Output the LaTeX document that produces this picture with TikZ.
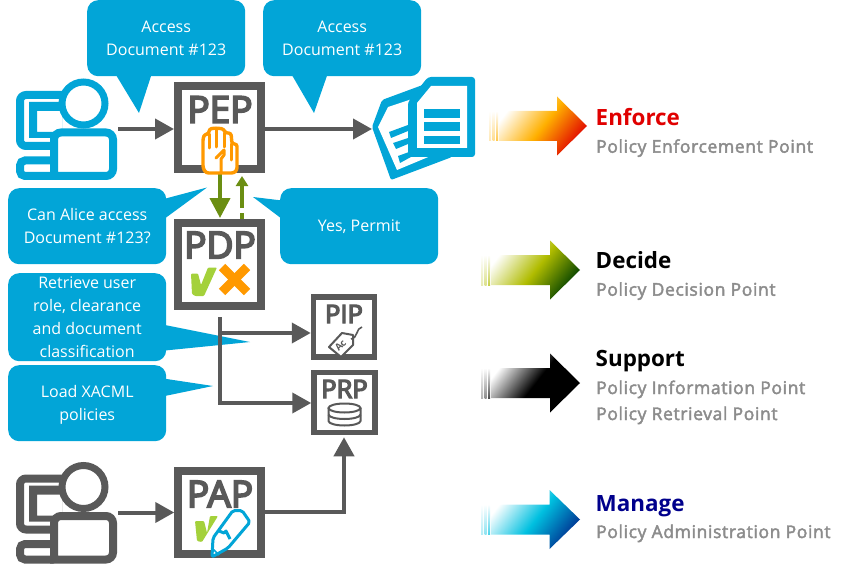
\documentclass[tikz,border=0pt]{standalone}
\usepackage{fontspec}
\setmainfont{Open Sans}
\newfontfamily\boxfont[FakeBold=5]{Open Sans}
\newfontfamily\subfont[FakeBold=2.5,LetterSpace=3.6]{Open Sans}
\usetikzlibrary{arrows.meta,calc}
\definecolor{cblue}{HTML}{02A5D7}
\definecolor{cgray}{HTML}{595959}
\definecolor{cgreen}{HTML}{6B8E12}
\definecolor{corange}{HTML}{FF9900}
\definecolor{clime}{HTML}{A4D13B}
\definecolor{csub}{HTML}{8C8C8C}
\definecolor{amid}{HTML}{FFB000}
\definecolor{aend}{HTML}{E00000}
\definecolor{bmid}{HTML}{B0BC00}
\definecolor{bend}{HTML}{004000}
\definecolor{dmid}{HTML}{00C0E0}
\definecolor{dend}{HTML}{003090}
\definecolor{cnavy}{HTML}{00008C}
\tikzset{
  callout/.style={fill=cblue,rounded corners=11,text=white,align=center,inner sep=0,
    font=\fontsize{16}{22.7}\selectfont,minimum width=158,anchor=north west},
  tail/.style={fill=cblue},
  box/.style={draw=cgray,fill=white,rectangle,inner sep=0},
  bigbox/.style={box,line width=8,minimum width=83,minimum height=83},
  smallbox/.style={box,line width=5.5,minimum width=61,minimum height=60},
  boxtext/.style={text=cgray,inner sep=0,font=\fontsize{37}{37}\boxfont\selectfont},
  smalltext/.style={text=cgray,inner sep=0,font=\fontsize{25.5}{25.5}\boxfont\selectfont},
  conn/.style={draw=cgray,line width=4,-{Triangle[length=19,width=20]}},
  grn/.style={draw=cgreen,line width=4},
  head/.style={inner sep=0,anchor=base west,font=\fontsize{22.4}{22.4}\bfseries\selectfont},
  sub/.style={inner sep=0,anchor=base west,text=csub,font=\fontsize{17.5}{17.5}\subfont\selectfont},
}
\newcommand{\personicon}[2]{%
 \begin{scope}[shift={(0,#2)}]
  \draw[#1,line width=8,rounded corners=6] (66,95) -- (20,95) -- (20,146) -- (57,146);
  \fill[#1,even odd rule] (29,102) rectangle (62,138) (37,111) rectangle (62,132);
  \draw[#1,line width=8,rounded corners=5] (54,160.5) -- (20,160.5) -- (20,176) -- (54,176);
  \draw[#1,fill=white,line width=8,rounded corners=7] (54,180) -- (54,132.5) -- (113,132.5) -- (113,176) -- (50,176);
  \draw[#1,fill=white,line width=7] (83.5,103.5) circle (21.5);
 \end{scope}}
\newcommand{\rarrow}[6]{% x0 shaftend tip ymid midcolour endcolour
 \shade[left color=white,right color=#6,middle color=#5,shading angle=52]
   (#1,#4-15) -- (#2,#4-15) -- (#2,#4-29.5) -- (#3,#4) -- (#2,#4+29.5) -- (#2,#4+15) -- (#1,#4+15) -- cycle;
 \shade[top color=white,bottom color=#5!70] (#1-3,#4-15) rectangle (#1-1,#4+15);
 \shade[top color=white,bottom color=#5!45] (#1-6.5,#4-15) rectangle (#1-4.5,#4+15);
 \shade[top color=white,bottom color=#5!30] (#1-10,#4-15) rectangle (#1-8,#4+15);
}
\begin{document}
\begin{tikzpicture}[x=1pt,y=-1pt]
\useasboundingbox (0,0) rectangle (857,567);
% callouts
\fill[tail] (113,70) -- (139,113) -- (153,70) -- cycle;
\fill[tail] (289,70) -- (314,113) -- (329,70) -- cycle;
\fill[tail] (160,200) -- (207,187.5) -- (160,222) -- cycle;
\fill[tail] (286,201) -- (253,197) -- (286,222) -- cycle;
\fill[tail] (160,324) -- (250,342) -- (160,351) -- cycle;
\fill[tail] (160,378) -- (213,386) -- (160,397) -- cycle;
\node[callout,minimum height=76] (c1) at (87,0) {Access\\Document \#123};
\node[callout,minimum height=76] (c2) at (263,0) {Access\\Document \#123};
\node[callout,minimum height=76] (c3) at (8,188) {Can Alice access\\Document \#123?};
\node[callout,minimum height=76] (c4) at (280,188) {Yes, Permit};
\node[callout,minimum height=88] (c5) at (8,273) {Retrieve user\\role, clearance\\and document\\classification};
\node[callout,minimum height=76] (c6) at (8,365) {\rule{0pt}{15pt}Load XACML\\policies};
% people
\personicon{cblue}{0}
\personicon{cgray}{383.5}
\coordinate (u1) at (118,129);
\coordinate (u2) at (118,512.5);
% boxes
\node[bigbox] (pep) at (219.5,128) {};
\node[bigbox] (pdp) at (219.5,264) {};
\node[bigbox] (pap) at (219.75,512) {};
\node[smallbox] (pip) at (344,327) {};
\node[smallbox] (prp) at (344.5,402.5) {};
\node[boxtext] (peplabel) at (220,109.5) {PEP};
\node[boxtext] (pdplabel) at (220,245) {PDP};
\node[boxtext] (paplabel) at (220,494) {PAP};
\node[smalltext] (piplabel) at (344,314) {PIP};
\node[smalltext] (prplabel) at (344.5,389) {PRP};
% document
\coordinate (doc) at (372,129);
\begin{scope}
 \fill[cblue,rounded corners=2] (372,127) -- (382,100) -- (428,83) -- (452,157) -- (391,180) -- cycle;
 \fill[white] (378,127) -- (388,107) -- (412,99) -- (433,155) -- (397,170) -- cycle;
 \fill[cblue] (389,132) -- (408,125) -- (408,131) -- (391,138) -- cycle;
 \fill[cblue] (393,143) -- (408,138) -- (408,144) -- (396,149) -- cycle;
 \fill[cblue] (398,156) -- (420,148) -- (420,152) -- (400,163) -- cycle;
 \fill[cblue,rounded corners=3] (428,77) -- (475,77) -- (475,157) -- (408,157) -- (408,102) -- cycle;
 \fill[white] (431,86) -- (467,86) -- (467,148) -- (417,148) -- (417,103) -- cycle;
 \fill[cblue] (424,109) rectangle (460,118);
 \fill[cblue] (424,122.5) rectangle (460,131.5);
 \fill[cblue] (424,136) rectangle (460,144.5);
\end{scope}
% connectors
\draw[conn] (u1) -- (pep.west |- u1);
\draw[conn] (pep.east |- doc) -- (doc);
\draw[conn] (u2) -- (pap.west |- u2);
\coordinate (downend) at (220,218);
\draw[grn,-{Triangle[length=20,width=20]}] (pep.south -| downend) -- (downend);
\coordinate (upstart) at (242,219);
\coordinate (upmid) at (242,213);
\coordinate (upmid2) at (242,208);
\coordinate (upend) at (242,176);
\draw[grn,line width=3.5] (upstart) -- (upmid);
\draw[grn,line width=3.5,-{Triangle[length=10,width=12]}] (upmid2) -- (upend);
\coordinate (pdpout) at (220,317);
\coordinate (prpknee) at (220,403);
\coordinate (pipbranch) at (220,333);
\draw[conn,line join=miter] (pdpout) -- (prpknee) -- (prp.west |- prpknee);
\draw[conn] (pipbranch) -- (pip.west |- pipbranch);
\coordinate (papknee) at (344,512);
\draw[conn,line join=miter] (pap.east |- papknee) -- (papknee) -- ($(papknee |- prp.south)+(0,2)$);
% hand
\draw[corange,fill=white,line width=3.4,rounded corners=2.5,line join=round]
  (206,173) -- (203,168) -- (203,138) -- (205,134) -- (209,134) -- (209,129) -- (216,128) -- (224,129) -- (225,133) -- (231,133) -- (232,144) -- (237,144) -- (237,170) -- (234,173) -- cycle;
\draw[corange,line width=3,line cap=round] (209.5,134) -- (209.5,148);
\draw[corange,line width=3,line cap=round] (216.5,129) -- (216.5,147);
\draw[corange,line width=3,line cap=round] (224,133) -- (224,147);
\draw[corange,line width=3,line cap=round,line join=round] (216,158) -- (224,150) -- (224,155) -- (221,159) -- (221,172);
\draw[corange,line width=3,line cap=round] (231.5,144) -- (231.5,160);
% pdp icons
\fill[clime,rounded corners=1] (191,273.5) -- (198,273.5) -- (201,285) -- (208,267.5) -- (217,267.5) -- (204,296) -- (195,296) -- (192,294) -- cycle;
\draw[corange,line width=9] (222,267) -- (247,292);
\draw[corange,line width=9] (247,267) -- (222,292);
% pap icons
\fill[clime,rounded corners=1] (195,521) -- (204,521) -- (207,533) -- (210,516) -- (218,516) -- (202,542) -- (197,541) -- cycle;
\draw[cblue,fill=white,line width=3,rounded corners=2,line join=round]
  (212,557) -- (213,538) -- (233,510.5) -- (242,510.5) -- (250,522) -- (228,548) -- cycle;
\draw[cblue,line width=3,line join=round] (219,531) -- (224,533) -- (226,531) -- (230,539);
\draw[cblue,line width=1.5] (213,549) -- (219,555);
% tag
\draw[cgray,fill=white,line width=2,line join=round] (329,347) -- (342,333) -- (353,335) -- (353,345) -- (341,357) -- cycle;
\fill[white] (351,339) circle (1);
\draw[cgray,line width=1.6] (351,339) .. controls (358,338) and (356,328) .. (362,327);
\node[rotate=45,text=cgray,inner sep=0,font=\fontsize{9.5}{9.5}\bfseries\selectfont] (taglabel) at (340.5,345.5) {Ac};
% database
\draw[cgray,line width=2] (328.5,408) -- (328.5,421) arc[start angle=180,end angle=0,x radius=16,y radius=4.5] -- (360.5,408);
\draw[cgray,line width=2] (344.5,408) ellipse[x radius=16,y radius=4.5];
\draw[cgray,line width=2] (328.5,414.5) arc[start angle=180,end angle=0,x radius=16,y radius=4.5];
% right column
\rarrow{499}{557}{587}{126}{amid}{aend}
\rarrow{491}{550}{580}{270}{bmid}{bend}
\rarrow{491}{550}{580}{383}{black}{black}
\rarrow{491}{549.5}{580}{519.5}{dmid}{dend}
\node[head,text=aend] (enforce) at (595.5,126) {Enforce};
\node[sub] (enforcesub) at (596,152.7) {Policy Enforcement Point};
\node[head,text=black] (decide) at (595.5,268) {Decide};
\node[sub] (decidesub) at (596,295.7) {Policy Decision Point};
\node[head,text=black] (support) at (595.5,366.7) {Support};
\node[sub] (supportsuba) at (596,394) {Policy Information Point};
\node[sub] (supportsubb) at (596,420) {Policy Retrieval Point};
\node[head,text=cnavy] (manage) at (595.5,511) {Manage};
\node[sub] (managesub) at (596,538) {Policy Administration Point};
\end{tikzpicture}
\end{document}
